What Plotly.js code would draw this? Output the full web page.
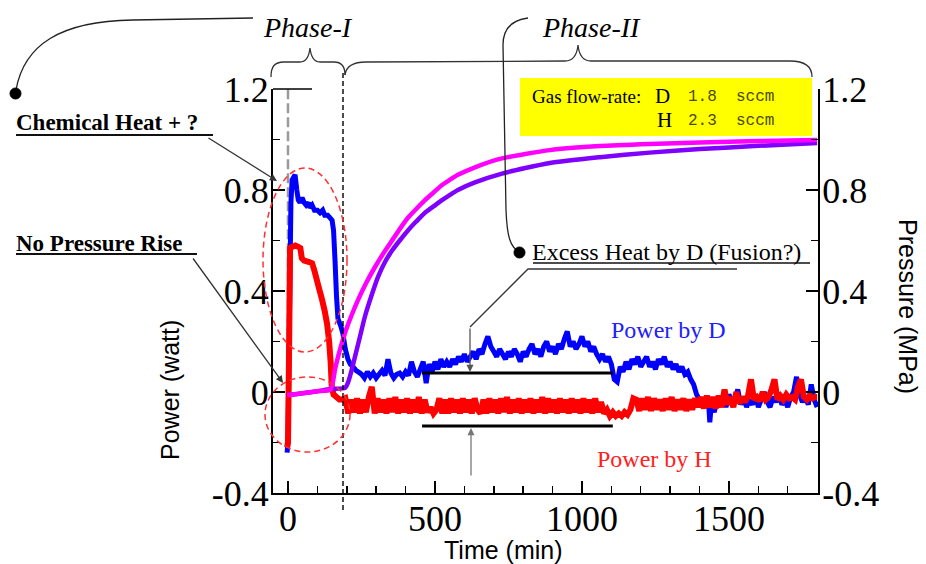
<!DOCTYPE html>
<html><head><meta charset="utf-8">
<script src="https://cdn.plot.ly/plotly-3.0.1.min.js"></script>
<style>html,body{margin:0;padding:0;background:#fff}#chart{width:926px;height:564px}</style>
</head><body><div id="chart"></div>
<script>
// ---------------- DATA ----------------
const timeD = [
  -3,0,5,10,14,24,30,35,41,48,55,62,70,75,82,90,100,109,118,125,135,143,150,155,160,165,170,180,187,195,204,212,221,232,245,
  250,260,270,280,290,300,310,320,330,340,
  350,360,370,380,390,400,410,420,430,440,
  450,460,470,480,490,500,510,520,530,540,
  550,560,570,580,590,600,610,620,630,640,
  650,660,670,680,690,700,710,720,730,740,
  750,760,770,780,790,800,810,820,830,840,
  850,860,870,880,890,900,910,920,930,940,
  950,960,970,980,990,1000,1010,1020,1030,1040,
  1050,1060,1070,1080,1090,1100,1110,1120,1130,1140,
  1150,1160,1170,1180,1190,1200,1210,1220,1230,1240,
  1250,1260,1270,1280,1290,1300,1310,1320,1330,1340,
  1350,1360,1370,1380,1390,1400,1410,1420,1430,1435,
  1440,1450,1460,1470,1480,1490,1500,1510,1520,1530,
  1540,1550,1560,1570,1580,1590,1600,1610,1620,1630,
  1640,1650,1660,1670,1680,1690,1700,1710,1720,1730,
  1740,1750,1760,1770,1780,1790,1800
];
const powerD = [
  -0.24,-0.2,0.3,0.75,0.84,0.86,0.8,0.76,0.75,0.77,0.75,0.74,0.75,0.73,0.74,0.72,0.72,0.71,0.72,0.70,0.70,0.69,0.68,0.64,0.52,0.38,0.29,0.26,0.23,0.17,0.13,0.11,0.10,0.085,0.075,
  0.07,0.055,0.08,0.06,0.075,0.055,0.07,0.085,0.065,0.13,
  0.075,0.055,0.07,0.075,0.06,0.08,0.065,0.12,0.08,0.06,
  0.09,0.12,0.035,0.11,0.08,0.12,0.09,0.13,0.1,0.12,
  0.1,0.13,0.11,0.14,0.12,0.15,0.12,0.14,0.16,0.13,
  0.17,0.15,0.19,0.22,0.18,0.16,0.14,0.17,0.15,0.13,
  0.16,0.14,0.17,0.15,0.12,0.16,0.14,0.17,0.19,0.15,
  0.17,0.14,0.18,0.2,0.16,0.18,0.15,0.19,0.17,0.21,
  0.24,0.18,0.2,0.17,0.19,0.22,0.18,0.2,0.16,0.18,
  0.15,0.13,0.15,0.12,0.14,0.11,0.05,0.04,0.1,0.08,
  0.12,0.09,0.13,0.11,0.14,0.1,0.12,0.14,0.1,0.12,
  0.09,0.13,0.11,0.14,0.1,0.12,0.09,0.11,0.08,0.1,
  0.07,0.08,0.05,0.03,-0.01,-0.03,-0.04,-0.06,-0.03,-0.12,
  -0.05,-0.08,-0.03,-0.05,-0.02,-0.06,-0.01,-0.04,-0.03,0.01,
  -0.05,-0.02,-0.06,-0.03,-0.05,-0.01,-0.06,-0.03,0.0,-0.04,
  -0.06,-0.02,-0.04,-0.01,-0.05,-0.03,-0.06,-0.02,0.0,0.06,
  -0.01,-0.04,-0.02,-0.05,0.03,-0.03,-0.06
];
const timeH = [
  -3,0,4,7,15,25,35,42,47,55,70,82,90,99,108,116,125,133,140,145,149,155,165,175,185,
  195,205,215,225,235,245,255,265,275,285,
  295,305,315,325,335,345,355,365,375,385,
  395,405,415,425,435,445,455,465,475,485,
  495,505,515,525,535,545,555,565,575,585,
  595,605,615,625,635,645,655,665,675,685,
  695,705,715,725,735,745,755,765,775,785,
  795,805,815,825,835,845,855,865,875,885,
  895,905,915,925,935,945,955,965,975,985,
  995,1005,1015,1025,1035,1045,1055,1065,1075,1085,
  1095,1105,1115,1125,1135,1145,1155,1165,1175,1185,
  1195,1205,1215,1225,1235,1245,1255,1265,1275,1285,
  1295,1305,1315,1325,1335,1345,1355,1365,1375,1385,
  1395,1405,1415,1425,1435,1445,1455,1465,1475,1485,
  1495,1505,1515,1525,1535,1545,1555,1565,1575,1585,
  1595,1605,1615,1625,1635,1645,1655,1665,1675,1685,
  1695,1705,1715,1725,1735,1745,1755,1765,1775,1785,
  1795,1800
];
const powerH = [
  -0.22,-0.2,0.2,0.57,0.575,0.58,0.575,0.57,0.53,0.52,0.515,0.51,0.48,0.44,0.4,0.365,0.32,0.27,0.2,0.12,0.02,-0.01,-0.02,-0.03,-0.03,
  -0.025,-0.085,-0.03,-0.08,-0.025,-0.085,-0.03,-0.08,-0.02,0.02,
  -0.085,-0.025,-0.08,-0.03,-0.085,-0.025,-0.08,-0.02,-0.085,-0.03,
  -0.08,-0.025,-0.085,-0.03,-0.08,-0.02,-0.085,-0.03,-0.08,-0.06,
  -0.085,-0.07,-0.025,-0.085,-0.03,-0.085,-0.025,-0.08,-0.03,-0.085,
  -0.025,-0.08,-0.03,-0.085,-0.025,-0.07,-0.085,-0.03,-0.085,-0.025,
  -0.08,-0.03,-0.085,-0.025,-0.08,-0.02,-0.085,-0.03,-0.08,-0.025,
  -0.085,-0.03,-0.08,-0.025,-0.085,-0.03,-0.08,-0.02,-0.085,-0.025,
  -0.08,-0.03,-0.085,-0.025,-0.08,-0.03,-0.085,-0.025,-0.08,-0.03,
  -0.085,-0.025,-0.08,-0.03,-0.085,-0.025,-0.08,-0.04,-0.085,-0.07,
  -0.095,-0.08,-0.095,-0.085,-0.095,-0.08,-0.09,-0.07,-0.025,-0.03,
  -0.075,-0.025,-0.07,-0.02,-0.075,-0.025,-0.07,-0.03,-0.075,-0.025,
  -0.07,-0.02,-0.075,-0.03,-0.07,-0.025,-0.075,-0.03,-0.07,-0.025,
  -0.06,-0.02,-0.065,-0.015,-0.06,-0.02,-0.065,-0.015,-0.06,0.01,
  -0.05,-0.02,-0.06,0.0,-0.045,-0.02,-0.04,-0.015,0.05,-0.03,
  -0.02,-0.035,0.0,-0.03,-0.02,0.01,0.05,-0.03,-0.015,-0.03,
  -0.01,-0.025,-0.02,-0.03,0.02,0.05,-0.02,-0.03,-0.015,-0.025,
  -0.02,-0.02
];
const timePH = [-3,50,100,145,160,175,194,215,238,265,296,325,354,380,408,436,466,495,524,550,578,636,728,891,1061,1230,1401,1600,1800];
const pressureH = [-0.012,-0.005,0.003,0.01,0.09,0.16,0.234,0.3,0.364,0.43,0.495,0.55,0.60,0.645,0.69,0.725,0.76,0.79,0.82,0.84,0.86,0.89,0.925,0.958,0.974,0.982,0.988,0.994,0.998];
const timePD = [-3,50,100,145,194,205,215,228,245,262,285,306,330,354,380,408,436,466,495,524,550,578,636,728,891,1061,1230,1401,1600,1800];
const pressureD = [-0.012,-0.005,0.003,0.012,0.016,0.04,0.08,0.14,0.22,0.30,0.385,0.455,0.515,0.56,0.60,0.64,0.675,0.71,0.735,0.76,0.78,0.80,0.83,0.865,0.907,0.93,0.948,0.962,0.975,0.986];

const xTickVals = [0,500,1000,1500];
const xTickText = ['0','500','1000','1500'];
const yTickVals = [-0.4,0,0.4,0.8,1.2];
const yTickText = ['-0.4','0','0.4','0.8','1.2'];
// reference levels marked by the black bars
const levelD = 0.075, levelH = -0.135, levelStart = 456, levelEnd = 1105;

// ---------------- PIXEL HELPERS for decorations ----------------
const L=273, R=818, T=89, B=493;
const px = v => (v-L)/(R-L);
const py = v => (B-v)/(B-T);
function toPath(cmds){
  return cmds.map(c=>{const out=[];for(let i=1;i<c.length;i+=2){out.push(px(c[i]).toFixed(5)+','+py(c[i+1]).toFixed(5));}return c[0]+' '+out.join(' ');}).join(' ');
}
function pLine(x0,y0,x1,y1,color,width,dash,layer){
  return {type:'line',xref:'paper',yref:'paper',x0:px(x0),y0:py(y0),x1:px(x1),y1:py(y1),line:{color:color,width:width,dash:dash||'solid'},layer:layer||'above'};
}
function pPath(cmds,color,width){
  return {type:'path',xref:'paper',yref:'paper',path:toPath(cmds),line:{color:color,width:width}};
}
function pText(text,x,y,size,opts){
  opts=opts||{};
  return Object.assign({xref:'paper',yref:'paper',x:px(x),y:py(y),text:text,showarrow:false,
    xanchor:opts.xanchor||'left',yanchor:'middle',
    font:{family:opts.family||'Liberation Serif',size:size,color:opts.color||'#000'}},opts.extra||{});
}
function pArrow(tipX,tipY,tailX,tailY,color){
  return {xref:'paper',yref:'paper',x:px(tipX),y:py(tipY),ax:tailX-tipX,ay:tailY-tipY,text:'',showarrow:true,
    arrowhead:2,arrowsize:1.1,arrowwidth:1.3,arrowcolor:color,standoff:0,startstandoff:0};
}

const serif='Liberation Serif', sans='Liberation Sans';

const traces = [
  {x:timeD,y:powerD,type:'scatter',mode:'lines',line:{color:'#0000ff',width:5,simplify:false},name:'Power by D'},
  {x:timeH,y:powerH,type:'scatter',mode:'lines',line:{color:'#ff0000',width:6,simplify:false},name:'Power by H'},
  {x:timePD,y:pressureD,type:'scatter',mode:'lines',yaxis:'y2',line:{color:'#8000ff',width:4.5,shape:'spline',smoothing:0.6},name:'Pressure D'},
  {x:timePH,y:pressureH,type:'scatter',mode:'lines',yaxis:'y2',line:{color:'#ff00ff',width:4.5,shape:'spline',smoothing:0.6},name:'Pressure H'}
];

const tickFont={family:serif,size:36,color:'#000'};
const yCommon={range:[-0.4,1.2],tickmode:'array',tickvals:yTickVals,ticktext:yTickText,ticks:'inside',ticklen:12,tickwidth:1.5,tickcolor:'#000',
  showline:true,linecolor:'#000',linewidth:2,showgrid:false,zeroline:false,tickfont:tickFont,ticklabelstandoff:-5,
  minor:{tickmode:'linear',tick0:0,dtick:0.2,ticks:'inside',ticklen:7,tickwidth:1.5,tickcolor:'#000',showgrid:false}};

const layout = {
  width:926,height:564,margin:{l:L,r:926-R,t:T,b:564-B,pad:0},
  paper_bgcolor:'#fff',plot_bgcolor:'rgba(0,0,0,0)',showlegend:false,hovermode:false,
  xaxis:{range:[-51,1803],tickmode:'array',tickvals:xTickVals,ticktext:xTickText,ticks:'inside',ticklen:12,tickwidth:1.5,tickcolor:'#000',
    showline:true,linecolor:'#000',linewidth:2,showgrid:false,zeroline:false,tickfont:tickFont,ticklabelstandoff:-7,
    minor:{tickmode:'linear',tick0:0,dtick:100,ticks:'inside',ticklen:7,tickwidth:1.5,tickcolor:'#000',showgrid:false}},
  yaxis:Object.assign({},yCommon,{side:'left'}),
  yaxis2:Object.assign({},yCommon,{side:'right',overlaying:'y'}),
  shapes:[
    {type:'line',xref:'x',yref:'y',x0:0,x1:0,y0:-0.005,y1:1.2,line:{color:'#9a9a9a',width:2.5,dash:'10px,4px'},layer:'below'},
    pLine(273,89,312,89,'#000',1.5),
    pLine(343,73,343,510,'#000',1.4,'5px,3px'),
    {type:'line',xref:'x',yref:'y',x0:levelStart,x1:levelEnd,y0:levelD,y1:levelD,line:{color:'#000',width:3}},
    {type:'line',xref:'x',yref:'y',x0:levelStart,x1:levelEnd,y0:levelH,y1:levelH,line:{color:'#000',width:3}},
    {type:'circle',xref:'paper',yref:'paper',x0:px(263),x1:px(347),y0:py(352),y1:py(168),line:{color:'#ff3030',width:1.5,dash:'6px,4px'}},
    {type:'circle',xref:'paper',yref:'paper',x0:px(265),x1:px(350),y0:py(452),y1:py(377),line:{color:'#ff3030',width:1.5,dash:'6px,4px'}},
    {type:'rect',xref:'paper',yref:'paper',x0:px(520),x1:px(812),y0:py(136),y1:py(78),fillcolor:'#ffff00',line:{width:0}},
    pPath([['M',271,77],['C',271,67,274,62,284,62],['L',300,62],['C',306,62,309,57,310,48],['C',311,57,314,62,320,62],['L',334,62],['C',341,62,345,66,345,75]],'#333',1.3),
    pPath([['M',345,75],['C',346,67,352,62,366,62],['L',565,61],['C',573,61,577,55,578,45],['C',579,55,583,61,591,61],['L',790,61],['C',805,61,812,66,812,77]],'#333',1.3),
    pPath([['M',16,90],['C',24,45,60,21,133,20],['L',253,18]],'#222',1.3),
    {type:'circle',xref:'paper',yref:'paper',x0:px(10),x1:px(21),y0:py(99),y1:py(88),fillcolor:'#000',line:{color:'#000',width:1}},
    pPath([['M',520,252],['C',510,248,507,236,506,210],['L',503,45],['C',503,28,512,20,528,18]],'#222',1.3),
    {type:'circle',xref:'paper',yref:'paper',x0:px(514),x1:px(525),y0:py(258),y1:py(247),fillcolor:'#000',line:{color:'#000',width:1}},
    pLine(16,135,213,135,'#111',2),
    pLine(16,254,197,254,'#111',2),
    pLine(533,263,810,263,'#111',1.5),
    pPath([['M',737,269],['L',528,269],['L',470,327]],'#333',1.3)
  ],
  annotations:[
    pText('<i>Phase-I</i>',308,27,28,{xanchor:'center'}),
    pText('<i>Phase-II</i>',591,27,28,{xanchor:'center'}),
    pText('<b>Chemical Heat + ?</b>',14,123,23),
    pText('<b>No Pressure Rise</b>',14,243,23),
    pText('Excess Heat by D (Fusion?)',530,252,24),
    pText('Power by D',609,330,24,{color:'#2020ff'}),
    pText('Power by H',595,459,24,{color:'#ff2020'}),
    pText('Gas flow-rate:',530,96,19),
    pText('D',653,96,21),
    pText('1.8  sccm',686,97,16,{family:'Liberation Mono',color:'#4a4a00'}),
    pText('H',655,120,21),
    pText('2.3  sccm',686,121,16,{family:'Liberation Mono',color:'#4a4a00'}),
    pText('Power (watt)',170,390,25,{xanchor:'center',family:sans,extra:{textangle:-90}}),
    pText('Pressure (MPa)',908,306,25,{xanchor:'center',family:sans,extra:{textangle:90}}),
    pText('Time (min)',503,550,25,{xanchor:'center',family:sans}),
    pArrow(277,181,207,137,'#333'),
    pArrow(283,383,192,257,'#333'),
    pArrow(470,372,470,327,'#555'),
    pArrow(471,428,471,477,'#777')
  ]
};

Plotly.newPlot('chart',traces,layout,{staticPlot:true,displayModeBar:false});
</script>
</body></html>
